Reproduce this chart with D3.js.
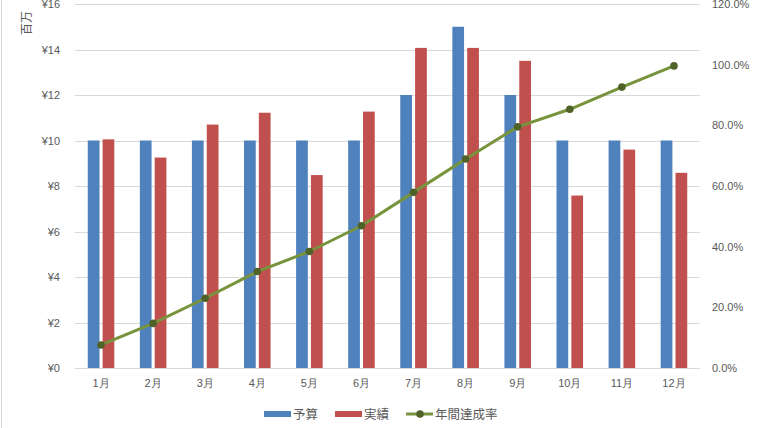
<!DOCTYPE html>
<html><head><meta charset="utf-8">
<script src="https://cdn.jsdelivr.net/npm/d3@7"></script>
<style>
body{margin:0;background:#fff;}
svg{display:block;font-family:"Noto Sans CJK JP","Noto Sans",sans-serif;}
</style></head>
<body><svg id="c" width="760" height="428"></svg>
<script>
const months = ["1月","2月","3月","4月","5月","6月","7月","8月","9月","10月","11月","12月"];
const budget = [10,10,10,10,10,10,12,15,12,10,10,10];
const actual = [10.05,9.25,10.7,11.22,8.48,11.27,14.07,14.07,13.5,7.58,9.6,8.58];
const rate = [7.6,14.7,23.0,31.8,38.4,46.9,57.9,68.9,79.5,85.3,92.6,99.6];
const leftTicks = [0,2,4,6,8,10,12,14,16];
const rightTicks = [0,20,40,60,80,100,120];
const seriesNames = ["予算","実績","年間達成率"];
const colors = {budget:"#4F81BD", actual:"#C0504D", line:"#77933C", marker:"#4F6228"};

const svg = d3.select("#c");
const L = 75, R = 700, T = 4, B = 368;

// outer border at left
svg.append("line").attr("x1",1.5).attr("x2",1.5).attr("y1",0).attr("y2",428)
  .attr("stroke","#d9d9d9").attr("stroke-width",1);

const x = d3.scaleBand().domain(months).range([L,R]).padding(0);
const y = d3.scaleLinear().domain([0,16]).range([B,T]);
const y2 = d3.scaleLinear().domain([0,120]).range([B,T]);

// gridlines
svg.append("g").selectAll("line").data(leftTicks).join("line")
  .attr("x1",L).attr("x2",R)
  .attr("y1",d=>Math.round(y(d))+0.5).attr("y2",d=>Math.round(y(d))+0.5)
  .attr("stroke","#d9d9d9").attr("stroke-width",1);

// left axis
const yAxis = d3.axisLeft(y).tickValues(leftTicks).tickSize(0).tickPadding(15)
  .tickFormat(d=>"¥"+d);
const gy = svg.append("g").attr("transform",`translate(${L},0)`).call(yAxis);
gy.select(".domain").remove();
gy.selectAll("text").attr("fill","#595959").style("font-size","11px");

// right axis
const y2Axis = d3.axisRight(y2).tickValues(rightTicks).tickSize(0).tickPadding(12)
  .tickFormat(d=>d.toFixed(1)+"%");
const gy2 = svg.append("g").attr("transform",`translate(${R},0)`).call(y2Axis);
gy2.select(".domain").remove();
gy2.selectAll("text").attr("fill","#595959").style("font-size","11px");

// x axis
const xAxis = d3.axisBottom(x).tickSize(0).tickPadding(11);
const gx = svg.append("g").attr("transform",`translate(0,${B})`).call(xAxis);
gx.select(".domain").remove();
gx.selectAll("text").attr("fill","#595959").style("font-size","11px");

// unit label
svg.append("text").attr("transform","translate(31,23) rotate(-90)")
  .attr("text-anchor","middle").attr("fill","#595959").style("font-size","12px").text("百万");

// bars
const bw = x.bandwidth()*0.225, gap = x.bandwidth()*0.06;
const cx = d => x(d) + x.bandwidth()/2;
svg.append("g").selectAll("rect").data(months).join("rect")
  .attr("x",(d)=>cx(d)-gap/2-bw).attr("width",bw)
  .attr("y",(d,i)=>y(budget[i])).attr("height",(d,i)=>y(0)-y(budget[i]))
  .attr("fill",colors.budget);
svg.append("g").selectAll("rect").data(months).join("rect")
  .attr("x",(d)=>cx(d)+gap/2).attr("width",bw)
  .attr("y",(d,i)=>y(actual[i])).attr("height",(d,i)=>y(0)-y(actual[i]))
  .attr("fill",colors.actual);

// line
const line = d3.line().x((d,i)=>cx(months[i])).y(d=>y2(d));
svg.append("path").datum(rate).attr("d",line).attr("fill","none")
  .attr("stroke",colors.line).attr("stroke-width",3).attr("stroke-linejoin","round");
svg.append("g").selectAll("circle").data(rate).join("circle")
  .attr("cx",(d,i)=>cx(months[i])).attr("cy",d=>y2(d)).attr("r",3.8)
  .attr("fill",colors.marker);

// legend
const lg = svg.append("g").style("font-size","12.5px").attr("fill","#595959");
const ly = 414;
lg.append("rect").attr("x",264).attr("y",ly-3).attr("width",27).attr("height",6).attr("fill",colors.budget);
lg.append("text").attr("x",293).attr("y",ly+4.5).attr("fill","#595959").text(seriesNames[0]);
lg.append("rect").attr("x",335).attr("y",ly-3).attr("width",27).attr("height",6).attr("fill",colors.actual);
lg.append("text").attr("x",364).attr("y",ly+4.5).attr("fill","#595959").text(seriesNames[1]);
lg.append("line").attr("x1",406).attr("x2",433).attr("y1",ly).attr("y2",ly)
  .attr("stroke",colors.line).attr("stroke-width",3);
lg.append("circle").attr("cx",420).attr("cy",ly).attr("r",3.8).attr("fill",colors.marker);
lg.append("text").attr("x",435).attr("y",ly+4.5).attr("fill","#595959").text(seriesNames[2]);
</script></body></html>
